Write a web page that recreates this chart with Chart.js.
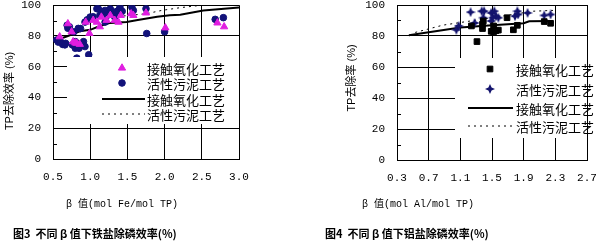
<!DOCTYPE html>
<html>
<head>
<meta charset="utf-8">
<script src="https://cdn.jsdelivr.net/npm/chart.js@4.4.1/dist/chart.umd.min.js"></script>
<style>
body { margin: 0; background: #fff; width: 599px; height: 244px; overflow: hidden; position: relative; }
canvas { position: absolute; top: 0; }
#fe { left: 0; }
#al { left: 300px; }
</style>
</head>
<body>
<canvas id="fe" width="300" height="244"></canvas>
<canvas id="al" width="299" height="244"></canvas>
<script>
// 图3 铁盐: 接触氧化工艺 (triangles) / 活性污泥工艺 (circles)
const feContactX = [0.59,0.70,0.75,0.77,0.80,0.82,0.86,0.94,0.99,1.04,1.09,1.13,1.15,1.22,1.27,1.33,1.38,1.41,1.55,1.58,1.75,2.01,2.71,2.80];
const feContactY = [79.5,88,82.7,76.3,75.5,75.3,74.6,89,81.7,90.2,89,86,92.3,90.2,93.4,90.2,89,93.4,94.5,93.4,95,85.3,88.5,86];
const feSludgeX = [0.55,0.57,0.60,0.63,0.66,0.67,0.69,0.70,0.72,0.76,0.78,0.80,0.80,0.82,0.84,0.85,0.87,0.89,0.91,0.93,0.93,0.98,0.96,1.00,1.04,1.09,1.11,1.13,1.16,1.18,1.20,1.20,1.23,1.27,1.31,1.33,1.36,1.38,1.40,1.43,1.56,1.58,1.75,1.76,2.00,2.68,2.79];
const feSludgeY = [77.4,76,76.3,74.5,74.2,75.2,87,85,86,74.2,82.7,76.3,72,65.6,84.9,72,84.8,74.2,76.3,73.1,89,67.8,90.5,92.3,92.5,97.7,97.6,93.4,95.5,96,89,96.6,93.4,97.6,95.5,92.3,96,96.6,98.7,96,98.7,96.6,97.7,81.6,82.7,90.8,91.9];
const feContactLineX = [0.55,0.70,0.86,1.00,1.13,1.27,1.49,1.62,1.90,2.07,2.21,2.52,3.00];
const feContactLineY = [77.4,80,83,84,86.5,88.5,89.1,90.2,92.5,93.5,93.8,96.5,98.5];
const feSludgeLineX = [1.45,1.76,1.96,2.21,2.50];
const feSludgeLineY = [93,94.5,96.6,98.4,100];

// 图4 铝盐: 接触氧化工艺 (squares) / 活性污泥工艺 (stars)
const alContactX = [1.24,1.31,1.38,1.38,1.39,1.49,1.52,1.52,1.55,1.58,1.69,1.77,1.82,2.16,2.24];
const alContactY = [86.5,76.4,84.8,87.6,89.7,83,82.7,86.5,83.4,83.8,91.8,84,86.9,89.3,88.2];
const alSludgeX = [1.05,1.08,1.23,1.28,1.37,1.40,1.39,1.49,1.49,1.51,1.53,1.55,1.58,1.79,1.82,1.83,1.95,2.16,2.24];
const alSludgeY = [84,86.5,95.4,88.4,96,96,91.8,94.9,89.7,91.8,96,92.8,91.8,92.8,96,93.9,94.9,93.3,93.9];
const alContactLineX = [0.45,0.68,1.10,1.50,1.90,1.97,2.27];
const alContactLineY = [80.5,82.3,85.5,87,88.2,89.5,89.7];
const alSludgeLineX = [0.53,0.88,1.50,2.02,2.27];
const alSludgeLineY = [82.3,87,91.8,96,96.5];

const seriesNames = ['接触氧化工艺', '活性污泥工艺', '接触氧化工艺', '活性污泥工艺'];
const yTicks = [0, 20, 40, 60, 80, 100];
const yMinor = [10, 30, 50, 70, 90];

const pts = (xs, ys) => xs.map((x, i) => ({ x: x, y: ys[i] }));

// four-point star marker
const star = document.createElement('canvas');
star.width = 10; star.height = 10;
(function() {
    const c = star.getContext('2d');
    c.fillStyle = '#14146e';
    c.beginPath();
    c.moveTo(5, 0); c.lineTo(6.6, 3.4); c.lineTo(10, 5); c.lineTo(6.6, 6.6);
    c.lineTo(5, 10); c.lineTo(3.4, 6.6); c.lineTo(0, 5); c.lineTo(3.4, 3.4);
    c.closePath();
    c.fill();
})();

const labelFont = '"Liberation Mono", "Noto Sans CJK SC", monospace';
const cjkFont = '"Noto Sans CJK SC", sans-serif';

const decor = {
    id: 'decor',
    afterDraw(chart, args, o) {
        const ctx = chart.ctx, a = chart.chartArea, y = chart.scales.y;
        ctx.save();
        ctx.strokeStyle = '#000';
        ctx.lineWidth = 1;
        yMinor.forEach(v => {
            const py = Math.round(y.getPixelForValue(v)) + 0.5;
            ctx.beginPath(); ctx.moveTo(a.left, py); ctx.lineTo(a.left + 4, py); ctx.stroke();
        });
        // legend
        ctx.fillStyle = '#fff';
        ctx.fillRect(o.box[0], o.box[1], o.box[2], o.box[3]);
        ctx.font = '13px ' + cjkFont;
        ctx.textBaseline = 'middle';
        ctx.textAlign = 'left';
        chart.data.datasets.forEach((ds, i) => {
            const ry = o.rows[i];
            if (ds.showLine) {
                ctx.strokeStyle = ds.borderColor;
                ctx.lineWidth = ds.borderWidth;
                ctx.setLineDash(ds.borderDash || []);
                ctx.beginPath(); ctx.moveTo(o.line[0], ry); ctx.lineTo(o.line[1], ry); ctx.stroke();
                ctx.setLineDash([]);
            } else {
                ctx.fillStyle = ds.pointBackgroundColor;
                ctx.strokeStyle = ds.pointBorderColor;
                Chart.helpers.drawPoint(ctx, { pointStyle: ds.pointStyle, radius: ds.pointRadius, rotation: 0, borderWidth: ds.pointBorderWidth }, o.marker, ry);
            }
            ctx.fillStyle = '#000';
            ctx.fillText(ds.label, o.text, ry + 1);
        });
        // axis titles and caption
        ctx.fillStyle = '#000';
        ctx.font = '10px ' + labelFont;
        ctx.textAlign = 'center';
        ctx.fillText(o.xTitle, o.xTitlePos[0], o.xTitlePos[1]);
        ctx.save();
        ctx.translate(o.yTitlePos[0], o.yTitlePos[1]);
        ctx.rotate(-Math.PI / 2);
        ctx.font = '11px "Liberation Sans", "Noto Sans CJK SC", sans-serif';
        ctx.fillText(o.yTitle, 0, 0);
        ctx.restore();
        ctx.textAlign = 'left';
        ctx.font = 'bold 11px ' + cjkFont;
        ctx.fillText(o.caption, o.captionPos[0], o.captionPos[1]);
        ctx.restore();
    }
};

function makeChart(id, width, area, xRange, xStep, sets, deco) {
    return new Chart(document.getElementById(id), {
        type: 'scatter',
        data: { datasets: sets },
        options: {
            responsive: false,
            animation: false,
            events: [],
            layout: { padding: { left: area.padLeft, top: area.top, right: width - area.right, bottom: 244 - area.bottom - 30 } },
            plugins: { legend: { display: false }, tooltip: { enabled: false }, decor: deco },
            scales: {
                x: {
                    min: xRange[0], max: xRange[1],
                    border: { color: '#000' },
                    grid: { color: '#000', drawTicks: false },
                    ticks: { stepSize: xStep, padding: 11, color: '#000', font: { family: labelFont, size: 11 }, callback: v => v.toFixed(1) },
                    afterFit: s => { s.height = 30; s.paddingLeft = 0; s.paddingRight = 0; }
                },
                y: {
                    min: 0, max: 100,
                    border: { color: '#000' },
                    grid: { color: '#000', drawTicks: false },
                    afterBuildTicks: s => { s.ticks = yTicks.map(v => ({ value: v })); },
                    ticks: { padding: 12, color: '#000', font: { family: labelFont, size: 11 } },
                    afterFit: s => { s.width = area.left - area.padLeft; s.paddingTop = 0; s.paddingBottom = 0; }
                }
            }
        },
        plugins: [decor]
    });
}

makeChart('fe', 300, { padLeft: 0, left: 53, right: 239, top: 3, bottom: 159 }, [0.5, 3.0], 0.5, [
    { label: seriesNames[0], data: pts(feContactX, feContactY), pointStyle: 'triangle', pointRadius: 4.2,
      pointBackgroundColor: '#e01ee0', pointBorderColor: '#e01ee0', pointBorderWidth: 1 },
    { label: seriesNames[1], data: pts(feSludgeX, feSludgeY), pointStyle: 'circle', pointRadius: 3.3,
      pointBackgroundColor: '#12127a', pointBorderColor: '#12127a', pointBorderWidth: 1 },
    { label: seriesNames[2], data: pts(feContactLineX, feContactLineY), showLine: true, pointRadius: 0,
      borderColor: '#000', borderWidth: 2 },
    { label: seriesNames[3], data: pts(feSludgeLineX, feSludgeLineY), showLine: true, pointRadius: 0,
      borderColor: '#000', borderWidth: 1, borderDash: [2, 4] }
], {
    box: [67, 57, 172, 67], rows: [68, 83, 99, 114], marker: 122, line: [102, 145], text: 147,
    xTitle: 'β 值(mol Fe/mol TP)', xTitlePos: [122, 204],
    yTitle: 'TP去除效率 (%)', yTitlePos: [10, 91],
    caption: '图3  不同 β 值下铁盐除磷效率(%)', captionPos: [13, 234]
});

makeChart('al', 299, { padLeft: 44, left: 97, right: 287, top: 2, bottom: 160 }, [0.3, 2.7], 0.4, [
    { label: seriesNames[0], data: pts(alContactX, alContactY), pointStyle: 'rect', pointRadius: 4,
      pointBackgroundColor: '#000', pointBorderColor: '#000', pointBorderWidth: 1 },
    { label: seriesNames[1], data: pts(alSludgeX, alSludgeY), pointStyle: star, pointRadius: 4,
      pointBackgroundColor: '#14146e', pointBorderColor: '#14146e', pointBorderWidth: 0 },
    { label: seriesNames[2], data: pts(alContactLineX, alContactLineY), showLine: true, pointRadius: 0,
      borderColor: '#000', borderWidth: 2 },
    { label: seriesNames[3], data: pts(alSludgeLineX, alSludgeLineY), showLine: true, pointRadius: 0,
      borderColor: '#000', borderWidth: 1, borderDash: [2, 4] }
], {
    box: [155, 58, 132, 80], rows: [69, 89, 108, 126], marker: 190, line: [168, 213], text: 216,
    xTitle: 'β 值(mol Al/mol TP)', xTitlePos: [118, 204],
    yTitle: 'TP去除率 (%)', yTitlePos: [52, 78],
    caption: '图4  不同 β 值下铝盐除磷效率(%)', captionPos: [25, 234]
});
</script>
</body>
</html>
